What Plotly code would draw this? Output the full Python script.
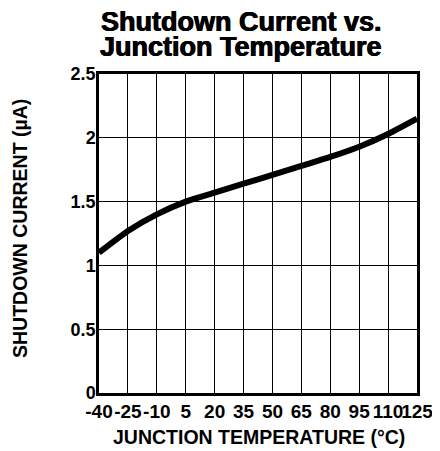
import plotly.graph_objects as go

temperature_c = [-40, -25, -10, 5, 20, 35, 50, 65, 80, 95, 110, 125]
shutdown_current_ua = [1.10, 1.27, 1.40, 1.50, 1.57, 1.64, 1.71, 1.78, 1.85, 1.93, 2.03, 2.15]
x_ticks = [-40, -25, -10, 5, 20, 35, 50, 65, 80, 95, 110, 125]
y_ticks = [0, 0.5, 1, 1.5, 2, 2.5]
y_tick_labels = ["0", "0.5", "1", "1.5", "2", "2.5"]
title_lines = ["Shutdown Current vs.", "Junction Temperature"]
x_title = "JUNCTION TEMPERATURE (°C)"
y_title = "SHUTDOWN CURRENT (µA)"

FONT = "Liberation Sans, Arial, sans-serif"

fig = go.Figure()
fig.add_trace(go.Scatter(
    x=temperature_c, y=shutdown_current_ua, mode="lines",
    line=dict(color="black", width=6, shape="spline", smoothing=0.6),
    showlegend=False, hoverinfo="skip",
))

# page has an 8px body margin; figure coordinates are page coordinates - 8
OFF = 8
W, H = 440 - OFF, 451 - OFF
L, R, T, B = 99 - OFF, 23, 74 - OFF, 58
plot_h = H - T - B
plot_w = W - L - R

def py(ypage):
    return (H - B - (ypage - OFF)) / plot_h

def px(xpage):
    return ((xpage - OFF) - L) / plot_w

annotations = []
for line, ycen in zip(title_lines, [22, 47]):
    annotations.append(dict(
        text="<b>%s</b>" % line, xref="paper", yref="paper",
        x=px(241), y=py(ycen), xanchor="center", yanchor="middle",
        showarrow=False,
        font=dict(family=FONT, size=27, color="black", weight="bold",
                  shadow="0.5px 0 0 black, -0.5px 0 0 black"),
    ))
annotations.append(dict(
    text="<b>%s</b>" % x_title, xref="paper", yref="paper",
    x=px(259), y=py(437), xanchor="center", yanchor="middle",
    showarrow=False, font=dict(family=FONT, size=19.5, color="black"),
))
annotations.append(dict(
    text="<b>%s</b>" % y_title, xref="paper", yref="paper",
    x=px(20), y=py(229), xanchor="center", yanchor="middle", textangle=-90,
    showarrow=False, font=dict(family=FONT, size=19.5, color="black"),
))

fig.update_layout(
    width=W, height=H,
    margin=dict(l=L, r=R, t=T, b=B, pad=0),
    paper_bgcolor="white", plot_bgcolor="white",
    annotations=annotations,
    xaxis=dict(
        range=[-40, 125], tickvals=x_ticks, ticktext=[str(v) for v in x_ticks],
        tickangle=0, automargin=False, ticklabelstandoff=-1,
        showgrid=True, gridcolor="black", gridwidth=1.3,
        showline=True, linecolor="black", linewidth=2.5, mirror=True,
        ticks="", zeroline=False,
        tickfont=dict(family=FONT, size=19, color="black", weight="bold"),
    ),
    yaxis=dict(
        range=[0, 2.5], tickvals=y_ticks, ticktext=y_tick_labels,
        automargin=False, ticklabelstandoff=-3,
        showgrid=True, gridcolor="black", gridwidth=1.3,
        showline=True, linecolor="black", linewidth=2.5, mirror=True,
        ticks="", zeroline=False,
        tickfont=dict(family=FONT, size=18, color="black", weight="bold"),
    ),
)

fig.write_html("out.html")
